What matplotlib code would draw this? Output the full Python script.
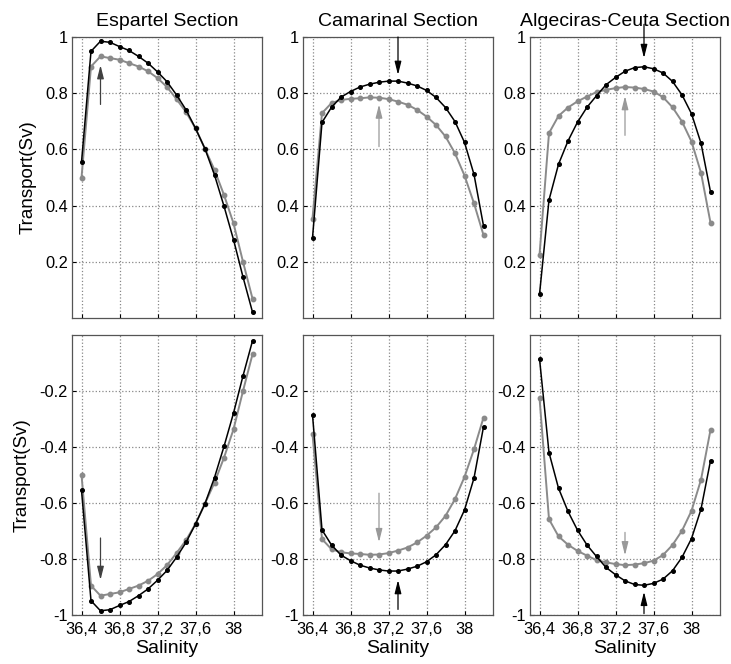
import matplotlib.pyplot as plt
import numpy as np

plt.rcParams['font.family'] = ['Liberation Sans', 'DejaVu Sans']

# salinity classes (x axis)
salinity = [36.4, 36.5, 36.6, 36.7, 36.8, 36.9, 37.0, 37.1, 37.2, 37.3,
            37.4, 37.5, 37.6, 37.7, 37.8, 37.9, 38.0, 38.1, 38.2]

sections = ['Espartel Section', 'Camarinal Section', 'Algeciras-Ceuta Section']

# inflow transport (Sv), black and grey series, per section
esp_black = [0.554, 0.949, 0.985, 0.981, 0.966, 0.952, 0.931, 0.907, 0.876, 0.841,
             0.794, 0.741, 0.675, 0.602, 0.509, 0.398, 0.279, 0.146, 0.021]
esp_grey = [0.499, 0.895, 0.931, 0.925, 0.919, 0.907, 0.895, 0.878, 0.854, 0.822,
            0.779, 0.733, 0.675, 0.602, 0.527, 0.438, 0.337, 0.200, 0.069]
cam_black = [0.285, 0.696, 0.750, 0.786, 0.806, 0.822, 0.832, 0.839, 0.843, 0.843,
             0.836, 0.826, 0.810, 0.785, 0.749, 0.699, 0.625, 0.511, 0.328]
cam_grey = [0.354, 0.729, 0.765, 0.776, 0.780, 0.782, 0.785, 0.784, 0.779, 0.770,
            0.759, 0.741, 0.717, 0.687, 0.646, 0.586, 0.507, 0.408, 0.295]
alg_black = [0.084, 0.420, 0.547, 0.630, 0.697, 0.750, 0.791, 0.830, 0.856, 0.878,
             0.891, 0.894, 0.887, 0.872, 0.842, 0.794, 0.727, 0.622, 0.449]
alg_grey = [0.224, 0.658, 0.719, 0.749, 0.771, 0.788, 0.804, 0.812, 0.818, 0.822,
            0.820, 0.815, 0.806, 0.786, 0.750, 0.699, 0.628, 0.517, 0.339]

black_series = [esp_black, cam_black, alg_black]
grey_series = [esp_grey, cam_grey, alg_grey]

# outflow (bottom row) is the mirror of the inflow
# arrows: (x, y_start, y_end, colour)
top_arrows = [
    [(36.6, 0.76, 0.90, '#404040')],
    [(37.3, 1.0, 0.865, 'black'), (37.1, 0.61, 0.76, '#999999')],
    [(37.5, 1.045, 0.925, 'black'), (37.3, 0.65, 0.79, '#999999')],
]
bottom_arrows = [
    [(36.6, -0.725, -0.875, '#404040')],
    [(37.1, -0.565, -0.74, '#999999'), (37.3, -0.98, -0.875, 'black')],
    [(37.3, -0.705, -0.787, '#999999'), (37.5, -0.995, -0.917, 'black')],
]

xticks = [36.4, 36.8, 37.2, 37.6, 38.0]
xticklabels = ['36,4', '36,8', '37,2', '37,6', '38']
top_yticks = [0.2, 0.4, 0.6, 0.8, 1.0]
top_yticklabels = ['0.2', '0.4', '0.6', '0.8', '1']
bot_yticks = [-1.0, -0.8, -0.6, -0.4, -0.2]
bot_yticklabels = ['-1', '-0.8', '-0.6', '-0.4', '-0.2']

fig = plt.figure(figsize=(7.31, 6.64), dpi=100)

lefts = [72 / 731, 303 / 731, 530 / 731]
width = 190 / 731
top_pos = ((664 - 318) / 664, 281 / 664)
bot_pos = (49 / 664, 280 / 664)

frame_col = '#555555'
grey_col = '#8a8a8a'


def style(ax):
    ax.set_xlim(36.3, 38.3)
    ax.set_xticks(xticks)
    ax.grid(True, linestyle=':', color='#888888', linewidth=0.9)
    ax.tick_params(direction='in', length=3, labelsize=11.8, colors='black', pad=3)
    ax.tick_params(axis='x', pad=5)
    for s in ax.spines.values():
        s.set_color(frame_col)
        s.set_linewidth(0.9)


def draw_arrows(ax, arrows):
    for x, y0, y1, c in arrows:
        ax.annotate('', xy=(x, y1), xytext=(x, y0),
                    arrowprops=dict(arrowstyle='-|>,head_width=0.2,head_length=0.8',
                                    color=c, lw=0.9, mutation_scale=10,
                                    shrinkA=0, shrinkB=0),
                    annotation_clip=False)


for i in range(3):
    xb = np.array(black_series[i])
    xg = np.array(grey_series[i])

    ax = fig.add_axes([lefts[i], top_pos[0], width, top_pos[1]])
    ax.plot(salinity, xg, '-o', color=grey_col, lw=1.4, ms=3.2, zorder=3)
    ax.plot(salinity, xb, '-o', color='black', lw=1.1, ms=2.6, zorder=4)
    style(ax)
    ax.set_ylim(0, 1)
    ax.set_yticks(top_yticks)
    ax.set_yticklabels(top_yticklabels)
    ax.set_xticklabels([])
    ax.set_title(sections[i], fontsize=14, pad=8)
    draw_arrows(ax, top_arrows[i])
    if i == 0:
        ax.set_ylabel('Transport(Sv)', fontsize=13.5, labelpad=6)

    ax = fig.add_axes([lefts[i], bot_pos[0], width, bot_pos[1]])
    ax.plot(salinity, -xg, '-o', color=grey_col, lw=1.4, ms=3.2, zorder=3)
    ax.plot(salinity, -xb, '-o', color='black', lw=1.1, ms=2.6, zorder=4)
    style(ax)
    ax.set_ylim(-1, 0)
    ax.set_yticks(bot_yticks)
    ax.set_yticklabels(bot_yticklabels)
    ax.set_xticklabels(xticklabels)
    ax.set_xlabel('Salinity', fontsize=14, labelpad=2)
    draw_arrows(ax, bottom_arrows[i])
    if i == 0:
        ax.set_ylabel('Transport(Sv)', fontsize=13.5, labelpad=6)

fig.savefig('out.png', dpi=100)
